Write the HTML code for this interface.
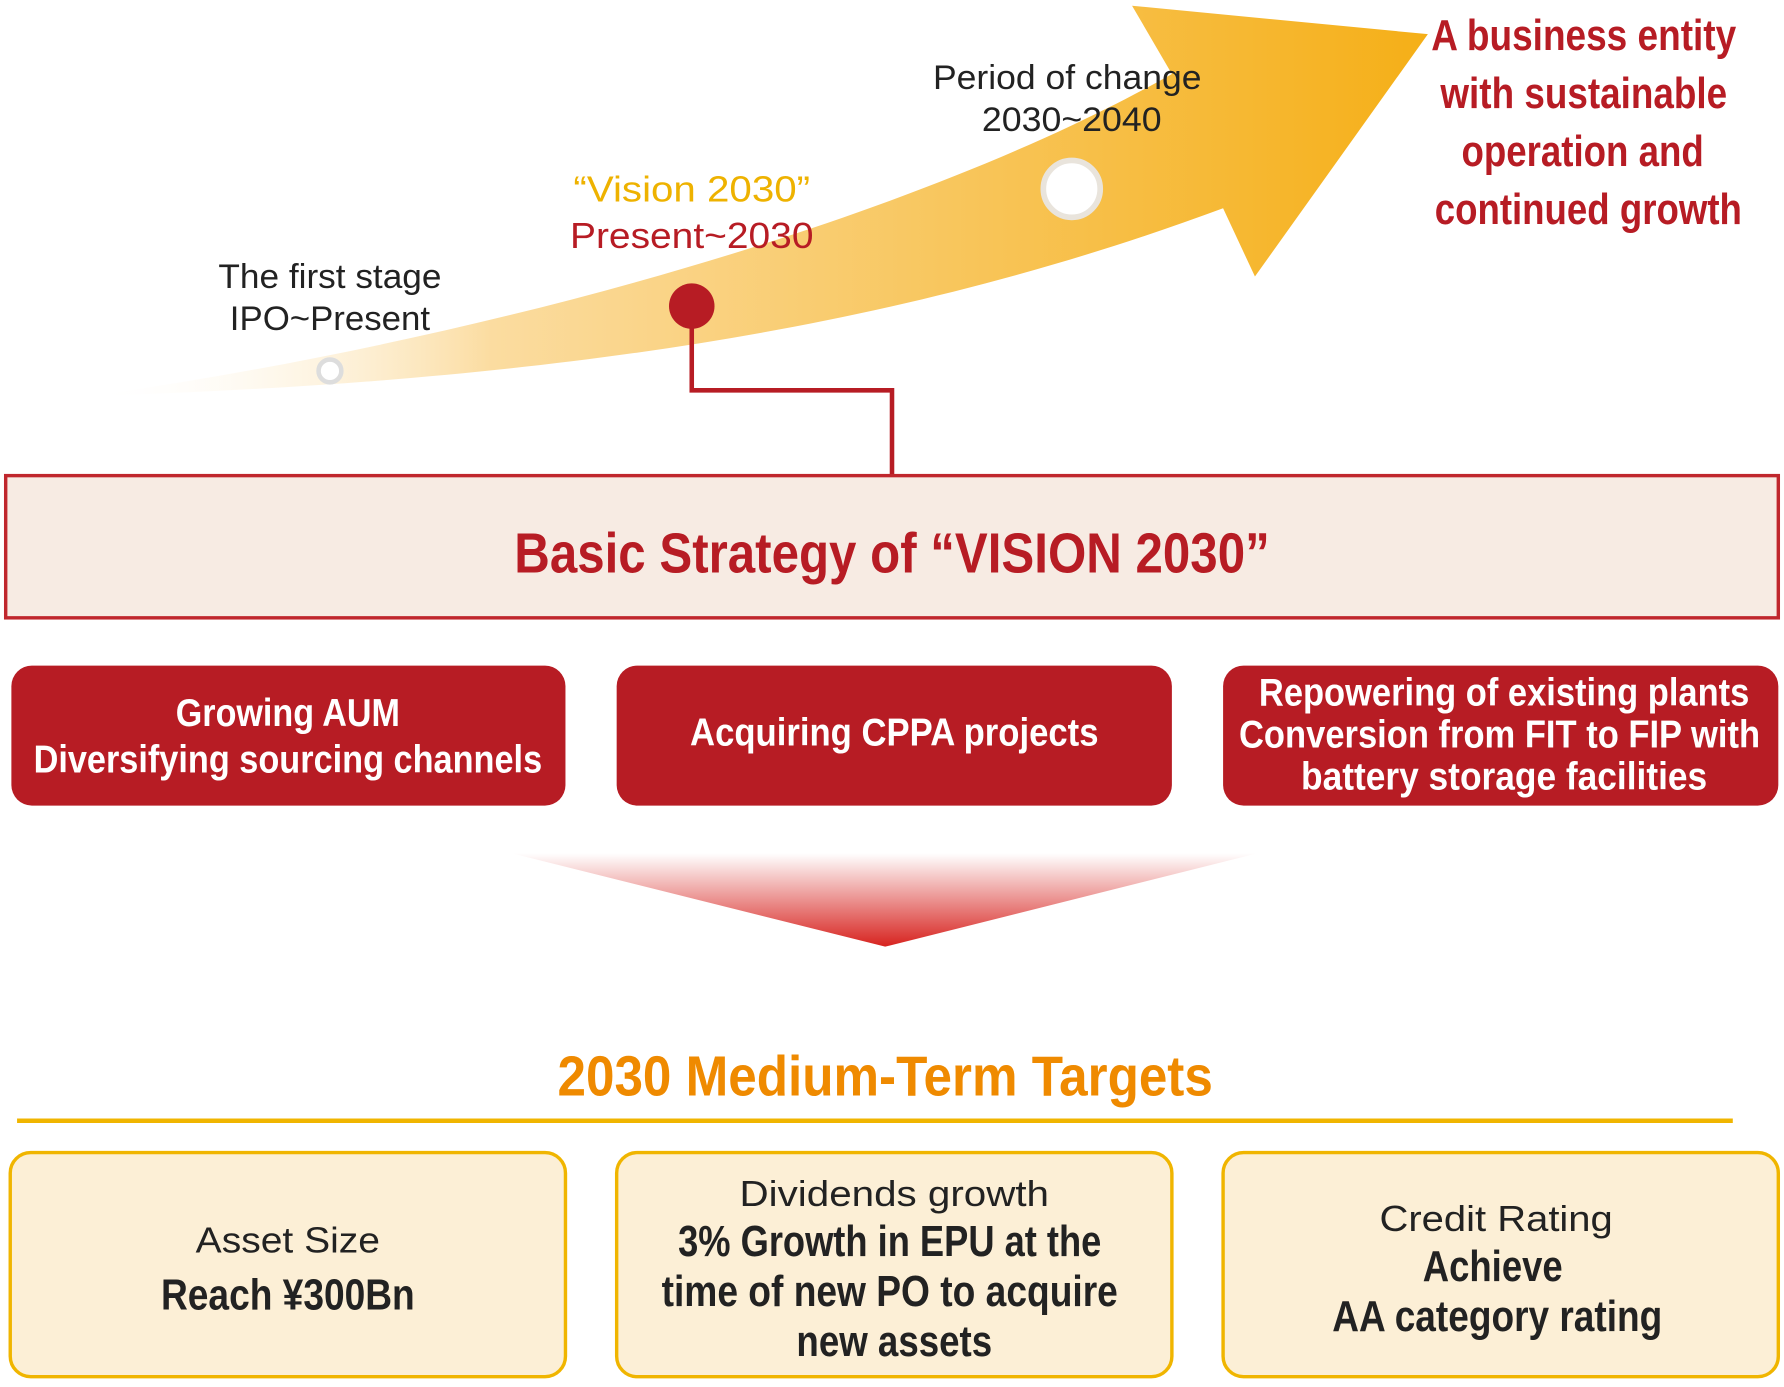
<!DOCTYPE html>
<html><head><meta charset="utf-8"><style>
html,body{margin:0;padding:0;background:#fff;width:1784px;height:1387px;overflow:hidden}
svg{display:block}
.n{font-family:"Liberation Sans",sans-serif;font-weight:bold}
.r{font-family:"Liberation Sans",sans-serif}
</style></head><body>
<svg width="1784" height="1387" viewBox="0 0 1568 1219" xmlns="http://www.w3.org/2000/svg">
<defs>
<linearGradient id="ga" x1="80" y1="0" x2="1255" y2="0" gradientUnits="userSpaceOnUse">
<stop offset="0" stop-color="#fff" stop-opacity="0"/><stop offset="0.3" stop-color="#fbdca0"/><stop offset="1" stop-color="#f5af17"/></linearGradient>
<linearGradient id="gf" x1="0" y1="750" x2="0" y2="832" gradientUnits="userSpaceOnUse">
<stop offset="0" stop-color="#fff"/><stop offset="1" stop-color="#d7231f"/></linearGradient>
</defs>
<path d="M80,348 C500,335 800,285 1075,183 L1103,243 L1255,30 L995,5 L1030,65 C800,195 420,300 80,348 Z" fill="url(#ga)"/>
<polyline points="608,269 608,343 784,343 784,418" fill="none" stroke="#b71c24" stroke-width="4"/>
<circle cx="290" cy="326" r="10" fill="#fff" stroke="#ddd" stroke-width="4"/>
<circle cx="608" cy="269" r="20" fill="#b71c24"/>
<circle cx="942" cy="166" r="25" fill="#fff" stroke="#e9e4dc" stroke-width="5"/>
<g class="r" font-size="30" fill="#222" text-anchor="middle" lengthAdjust="spacingAndGlyphs">
<text x="290" y="253" textLength="196" lengthAdjust="spacingAndGlyphs">The first stage</text><text x="290" y="290" textLength="176" lengthAdjust="spacingAndGlyphs">IPO~Present</text>
<text x="938" y="78" textLength="236" lengthAdjust="spacingAndGlyphs">Period of change</text><text x="942" y="115" textLength="158" lengthAdjust="spacingAndGlyphs">2030~2040</text>
</g>
<text class="r" x="608" y="177" font-size="32" fill="#eeb200" text-anchor="middle" textLength="208" lengthAdjust="spacingAndGlyphs">“Vision 2030”</text>
<text class="r" x="608" y="218" font-size="32" fill="#b71c24" text-anchor="middle" textLength="214" lengthAdjust="spacingAndGlyphs">Present~2030</text>
<g class="n" font-size="38" fill="#b71c24" text-anchor="middle">
<text x="1392" y="44" textLength="268" lengthAdjust="spacingAndGlyphs">A business entity</text><text x="1392" y="95" textLength="252" lengthAdjust="spacingAndGlyphs">with sustainable</text>
<text x="1391" y="146" textLength="213" lengthAdjust="spacingAndGlyphs">operation and</text><text x="1396" y="197" textLength="270" lengthAdjust="spacingAndGlyphs">continued growth</text>
</g>
<rect x="5" y="418" width="1558" height="125" fill="#f7ebe3" stroke="#c0272d" stroke-width="3"/>
<text class="n" x="784" y="503" font-size="50" fill="#b71c24" text-anchor="middle" textLength="664" lengthAdjust="spacingAndGlyphs">Basic Strategy of “VISION 2030”</text>
<g fill="#b71c24"><rect x="10" y="585" width="487" height="123" rx="18"/><rect x="542" y="585" width="488" height="123" rx="18"/><rect x="1075" y="585" width="488" height="123" rx="18"/></g>
<g class="n" font-size="34" fill="#fff" text-anchor="middle">
<text x="253" y="638" textLength="197" lengthAdjust="spacingAndGlyphs">Growing AUM</text><text x="253" y="679" textLength="447" lengthAdjust="spacingAndGlyphs">Diversifying sourcing channels</text>
<text x="786" y="655" textLength="359" lengthAdjust="spacingAndGlyphs">Acquiring CPPA projects</text>
<text x="1322" y="620" textLength="431" lengthAdjust="spacingAndGlyphs">Repowering of existing plants</text><text x="1318" y="657" textLength="458" lengthAdjust="spacingAndGlyphs">Conversion from FIT to FIP with</text><text x="1322" y="694" textLength="357" lengthAdjust="spacingAndGlyphs">battery storage facilities</text>
</g>
<polygon points="450,750 1105,750 778,832" fill="url(#gf)"/>
<text class="n" x="778" y="963" font-size="50" fill="#ef8a00" text-anchor="middle" textLength="576" lengthAdjust="spacingAndGlyphs">2030 Medium-Term Targets</text>
<line x1="15" y1="985" x2="1523" y2="985" stroke="#f0b500" stroke-width="4"/>
<g fill="#fcefd6" stroke="#f0b500" stroke-width="3"><rect x="9" y="1013" width="488" height="197" rx="18"/><rect x="542" y="1013" width="488" height="197" rx="18"/><rect x="1075" y="1013" width="488" height="197" rx="18"/></g>
<g class="r" font-size="32" fill="#222" text-anchor="middle">
<text x="253" y="1101" textLength="162" lengthAdjust="spacingAndGlyphs">Asset Size</text><text x="786" y="1060" textLength="272" lengthAdjust="spacingAndGlyphs">Dividends growth</text><text x="1315" y="1082" textLength="205" lengthAdjust="spacingAndGlyphs">Credit Rating</text>
</g>
<g class="n" font-size="38" fill="#222" text-anchor="middle">
<text x="253" y="1151" textLength="223" lengthAdjust="spacingAndGlyphs">Reach ¥300Bn</text>
<text x="782" y="1104" textLength="372" lengthAdjust="spacingAndGlyphs">3% Growth in EPU at the</text><text x="782" y="1148" textLength="401" lengthAdjust="spacingAndGlyphs">time of new PO to acquire</text><text x="786" y="1192" textLength="172" lengthAdjust="spacingAndGlyphs">new assets</text>
<text x="1312" y="1126" textLength="123" lengthAdjust="spacingAndGlyphs">Achieve</text><text x="1316" y="1170" textLength="290" lengthAdjust="spacingAndGlyphs">AA category rating</text>
</g>
</svg>
</body></html>
